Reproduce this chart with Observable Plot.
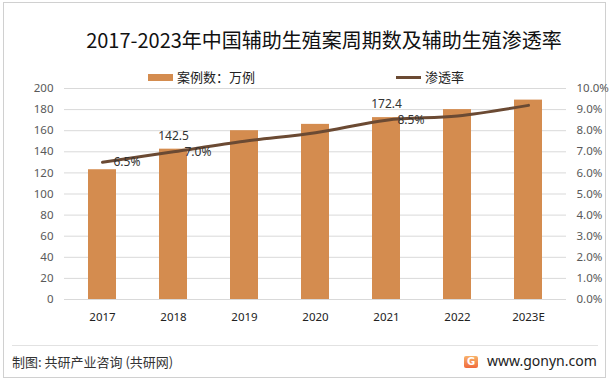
<!DOCTYPE html>
<html>
<head>
<meta charset="utf-8">
<script src="https://cdn.jsdelivr.net/npm/d3@7"></script>
<script src="https://cdn.jsdelivr.net/npm/@observablehq/plot@0.6"></script>
<style>
  html, body { margin: 0; padding: 0; background: #fff; }
  body { width: 612px; height: 385px; overflow: hidden; font-family: "Noto Sans CJK SC", "Noto Sans", sans-serif; }
  #frame { position: absolute; left: 3px; top: 2px; width: 603px; height: 376px; border: 1px solid #d0d0d0; box-sizing: border-box; }
  #title { position: absolute; left: 0; top: 27px; width: 648px; text-align: center; font-size: 20px; color: #111; white-space: nowrap; line-height: 26px; }
  .leg { position: absolute; top: 69px; font-size: 13px; color: #222; line-height: 16px; white-space: nowrap; }
  .sw { position: absolute; }
  #chart { position: absolute; left: 0; top: 80px; }
  #sep { position: absolute; left: 12px; top: 345px; width: 586px; height: 1px; background: #e2e2e2; }
  #src { position: absolute; left: 12px; top: 353px; font-size: 13px; color: #333; line-height: 18px; white-space: nowrap; }
  #site { position: absolute; left: 487px; top: 352px; font-size: 14px; color: #222; line-height: 18px; font-family: "Noto Sans", sans-serif; }
  #logo { position: absolute; left: 464px; top: 356px; width: 14px; height: 12px; border-radius: 2px; background: linear-gradient(180deg, #f8b26a, #f06a3c); color: #fff; font: bold 10px/12px "DejaVu Sans", sans-serif; text-align: center; }
</style>
</head>
<body>
<div id="frame"></div>
<div id="title">2017-2023年中国辅助生殖案周期数及辅助生殖渗透率</div>
<div class="sw" style="left:148px; top:74px; width:25px; height:7px; background:#D48C4F;"></div>
<div class="leg" style="left:177px;">案例数：万例</div>
<div class="sw" style="left:396px; top:76px; width:25px; height:3px; background:#6B4A33;"></div>
<div class="leg" style="left:425px;">渗透率</div>
<div id="chart"></div>
<div id="sep"></div>
<div id="src">制图: 共研产业咨询 (共研网)</div>
<div id="logo">G</div>
<div id="site">www.gonyn.com</div>
<script>
// Data
const years = ["2017", "2018", "2019", "2020", "2021", "2022", "2023E"];
const cases = [123, 142.5, 160, 166, 172.4, 180, 189];      // 万例
const rates = [6.5, 7.0, 7.5, 7.9, 8.5, 8.7, 9.2];          // %
const caseLabelYears = ["2018", "2021"];
const rateLabelYears = ["2017", "2018", "2021"];
const leftTicks = [0, 20, 40, 60, 80, 100, 120, 140, 160, 180, 200];
const rightTicks = [0, 1, 2, 3, 4, 5, 6, 7, 8, 9, 10];       // %

const k = 20; // right axis (%) mapped onto left axis: 10% ↔ 200
const rows = years.map((y, i) => ({year: y, cases: cases[i], rate: rates[i]}));

const chart = Plot.plot({
  width: 612,
  height: 250,
  marginTop: 8,
  marginBottom: 31,
  marginLeft: 64,
  marginRight: 46,
  style: {fontFamily: "'Noto Sans', sans-serif", fontSize: "11.5px", color: "#595959", background: "transparent"},
  x: {domain: years, paddingInner: 0.6, paddingOuter: 0.3},
  y: {domain: [0, 200]},
  marks: [
    Plot.gridY(leftTicks, {stroke: "#d9d9d9", strokeOpacity: 1}),
    Plot.axisY(leftTicks, {anchor: "left", tickSize: 0, tickPadding: 11, label: null, fill: "#595959"}),
    Plot.axisY(rightTicks.map(t => t * k), {anchor: "right", tickSize: 0, tickPadding: 10, label: null, fill: "#595959",
      tickFormat: d => (d / k).toFixed(1) + "%"}),
    Plot.axisX({tickSize: 0, tickPadding: 13, label: null, fill: "#222"}),
    Plot.barY(rows, {x: "year", y: "cases", fill: "#D48C4F"}),
    Plot.line(rows, {x: "year", y: d => d.rate * k, stroke: "#6B4A33", strokeWidth: 3, curve: "catmull-rom"}),
    Plot.text(rows.filter(d => caseLabelYears.includes(d.year)), {x: "year", y: "cases", text: d => d.cases.toFixed(1), dy: -13, fill: "#333", fontSize: 12}),
    Plot.text(rows.filter(d => rateLabelYears.includes(d.year)), {x: "year", y: d => d.rate * k, text: d => d.rate.toFixed(1) + "%", dx: 11, textAnchor: "start", fill: "#333", fontSize: 12})
  ]
});
document.getElementById("chart").appendChild(chart);
</script>
</body>
</html>
